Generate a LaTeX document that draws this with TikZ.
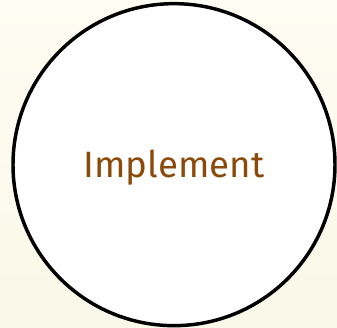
\documentclass[tikz,border=0pt]{standalone}
\usepackage{fontspec}
\setmainfont{Fira Sans}
\usepackage{tikz}
\usetikzlibrary{positioning}
\definecolor{implbrown}{RGB}{139,74,10}
\definecolor{bgtop}{RGB}{255,252,243}
\definecolor{bgbottom}{RGB}{248,249,232}

\begin{document}
\begin{tikzpicture}[x=1pt, y=1pt, phase/.style={circle, draw=black, line width=2.6pt, fill=white, minimum size=241.5pt, inner sep=0pt}]
	\shade[top color=bgtop, bottom color=bgbottom] (0,0) rectangle (252.75,246);
	\useasboundingbox (0,0) rectangle (252.75,246);
	\node[phase] (implement) at (130.5,122.5) {};
	\node[text=implbrown, font=\fontsize{27.5}{30}\selectfont, yshift=-2.5pt] (label) at (implement.center) {Implement};
\end{tikzpicture}
\end{document}
